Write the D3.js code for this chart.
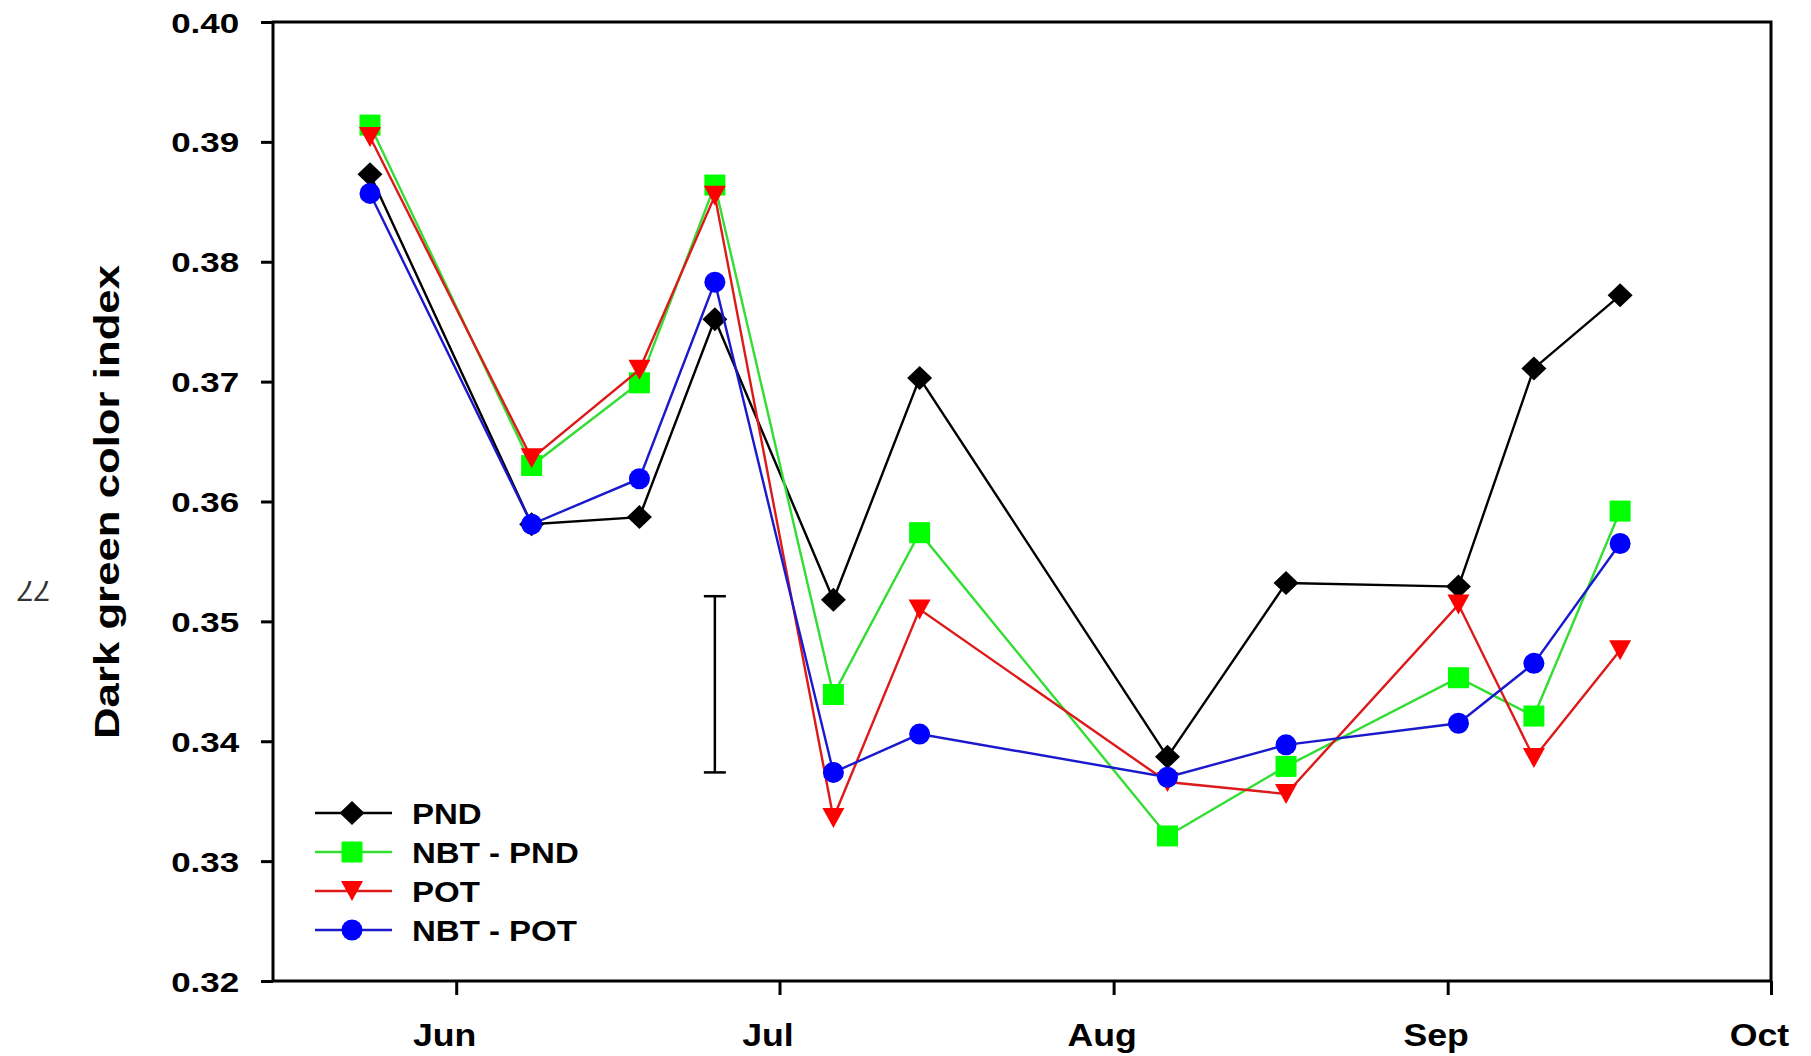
<!DOCTYPE html>
<html>
<head>
<meta charset="utf-8">
<script src="https://cdn.jsdelivr.net/npm/d3@7"></script>
<style>
  html, body { margin: 0; padding: 0; background: #fff; }
  svg { display: block; }
  text { font-family: "Liberation Sans", Arial, sans-serif; }
</style>
</head>
<body>
<svg id="chart" width="1811" height="1056"></svg>
<script>
// Sampling dates (month-day) shared by every treatment
const sampleDates = ["05-24", "06-08", "06-18", "06-25", "07-06", "07-14",
                     "08-06", "08-17", "09-02", "09-09", "09-17"];

// Dark green color index per treatment
const pnd    = [0.3873, 0.3581, 0.3587, 0.3752, 0.3518, 0.3703, 0.3387, 0.3532, 0.3529, 0.3711, 0.3772];
const nbtPnd = [0.3914, 0.3630, 0.3699, 0.3864, 0.3439, 0.3574, 0.3321, 0.3379, 0.3453, 0.3421, 0.3592];
const pot    = [0.3904, 0.3636, 0.3710, 0.3855, 0.3336, 0.3510, 0.3366, 0.3356, 0.3514, 0.3386, 0.3476];
const nbtPot = [0.3857, 0.3581, 0.3619, 0.3783, 0.3374, 0.3406, 0.3370, 0.3397, 0.3415, 0.3465, 0.3565];

const seriesNames = ["PND", "NBT - PND", "POT", "NBT - POT"];

// LSD bar
const lsdDate = "06-25";
const lsdRange = [0.3374, 0.3521];

// Axis ticks
const yTicks = [0.32, 0.33, 0.34, 0.35, 0.36, 0.37, 0.38, 0.39, 0.40];
const monthTicks = ["06-01", "07-01", "08-01", "09-01", "10-01"];
const monthLabels = ["Jun", "Jul", "Aug", "Sep", "Oct"];

const yTitle = "Dark green color index";
const pageNumber = "77";

const YEAR = 2013;
const parse = d3.timeParse("%Y-%m-%d");
const toDate = md => parse(YEAR + "-" + md);

const svg = d3.select("#chart");
const plotLeft = 273, plotRight = 1771, plotTop = 22, plotBottom = 981;

const x = d3.scaleTime()
  .domain([toDate("05-15"), toDate("10-01")])
  .range([plotLeft, plotRight]);
const y = d3.scaleLinear()
  .domain([0.32, 0.40])
  .range([plotBottom, plotTop]);

// Frame
svg.append("rect")
  .attr("x", plotLeft).attr("y", plotTop)
  .attr("width", plotRight - plotLeft).attr("height", plotBottom - plotTop)
  .attr("fill", "none").attr("stroke", "#000").attr("stroke-width", 3);

// Y axis
const yAxis = svg.append("g")
  .attr("transform", `translate(${plotLeft},0)`)
  .call(d3.axisLeft(y).tickValues(yTicks).tickSize(12).tickSizeOuter(0).tickFormat(d3.format(".2f")));
yAxis.select(".domain").remove();
yAxis.selectAll(".tick line").attr("stroke", "#000").attr("stroke-width", 3);
yAxis.selectAll(".tick text")
  .attr("x", -27)
  .attr("dy", "0.36em")
  .attr("transform", "scale(1.25,1)")
  .attr("font-size", 28).attr("font-weight", "bold").attr("fill", "#000");

// X axis
const monthDates = monthTicks.map(toDate);
const xAxis = svg.append("g")
  .attr("transform", `translate(0,${plotBottom})`)
  .call(d3.axisBottom(x).tickValues(monthDates).tickSize(14).tickSizeOuter(0)
        .tickFormat((d, i) => monthLabels[i]));
xAxis.select(".domain").remove();
xAxis.selectAll(".tick line").attr("stroke", "#000").attr("stroke-width", 3);
xAxis.selectAll(".tick text")
  .attr("y", 0).attr("dy", 0)
  .attr("transform", "translate(-12,65) scale(1.15,1)")
  .attr("font-size", 31).attr("font-weight", "bold").attr("fill", "#000");

// Y title
svg.append("text")
  .attr("transform", "translate(119,502) rotate(-90) scale(1.25,1)")
  .attr("text-anchor", "middle")
  .attr("font-size", 35).attr("font-weight", "bold").attr("fill", "#000")
  .text(yTitle);

// Page number in the margin (upside down)
svg.append("text")
  .attr("transform", "translate(35,592) rotate(180)")
  .attr("text-anchor", "middle").attr("dy", "0.36em")
  .attr("font-size", 30).attr("font-style", "italic").attr("fill", "#333")
  .attr("font-weight", "normal")
  .text(pageNumber);

// LSD error bar
const lx = x(toDate(lsdDate));
const lsd = svg.append("g").attr("stroke", "#000").attr("stroke-width", 2.5);
lsd.append("line").attr("x1", lx).attr("x2", lx).attr("y1", y(lsdRange[0])).attr("y2", y(lsdRange[1]));
lsd.append("line").attr("x1", lx - 11).attr("x2", lx + 11).attr("y1", y(lsdRange[0])).attr("y2", y(lsdRange[0]));
lsd.append("line").attr("x1", lx - 11).attr("x2", lx + 11).attr("y1", y(lsdRange[1])).attr("y2", y(lsdRange[1]));

// Marker shapes
const markerPath = {
  diamond: "M0,-12 L12.5,0 L0,12 L-12.5,0 Z",
  square: "M-10.5,-10.5 L10.5,-10.5 L10.5,10.5 L-10.5,10.5 Z",
  triangle: "M-11,-10 L11,-10 L0,10 Z",
  circle: d3.symbol().type(d3.symbolCircle).size(Math.PI * 10.5 * 10.5)()
};

const series = [
  { name: seriesNames[0], values: pnd,    fill: "#000000", line: "#000000", shape: "diamond" },
  { name: seriesNames[1], values: nbtPnd, fill: "#00ff00", line: "#33dd33", shape: "square" },
  { name: seriesNames[2], values: pot,    fill: "#ff0000", line: "#dd1a1a", shape: "triangle" },
  { name: seriesNames[3], values: nbtPot, fill: "#0000ff", line: "#1a1acc", shape: "circle" }
];

const line = d3.line()
  .x((d, i) => x(toDate(sampleDates[i])))
  .y(d => y(d));

series.forEach(s => {
  const g = svg.append("g");
  g.append("path")
    .attr("d", line(s.values))
    .attr("fill", "none").attr("stroke", s.line).attr("stroke-width", 2.4);
  g.selectAll("path.marker")
    .data(s.values)
    .enter().append("path")
    .attr("class", "marker")
    .attr("d", markerPath[s.shape])
    .attr("transform", (d, i) => `translate(${x(toDate(sampleDates[i]))},${y(d)})`)
    .attr("fill", s.fill);
});

// Legend
const legend = svg.append("g").attr("transform", "translate(315,813)");
series.forEach((s, i) => {
  const row = legend.append("g").attr("transform", `translate(0,${i * 39})`);
  row.append("line").attr("x1", 0).attr("x2", 77).attr("y1", 0).attr("y2", 0)
    .attr("stroke", s.line).attr("stroke-width", 2.4);
  row.append("path").attr("d", markerPath[s.shape])
    .attr("transform", "translate(37,0)").attr("fill", s.fill);
  row.append("text")
    .attr("transform", "translate(97,0) scale(1.1,1)")
    .attr("dy", "0.36em")
    .attr("font-size", 30).attr("font-weight", "bold").attr("fill", "#000")
    .text(s.name);
});
</script>
</body>
</html>
